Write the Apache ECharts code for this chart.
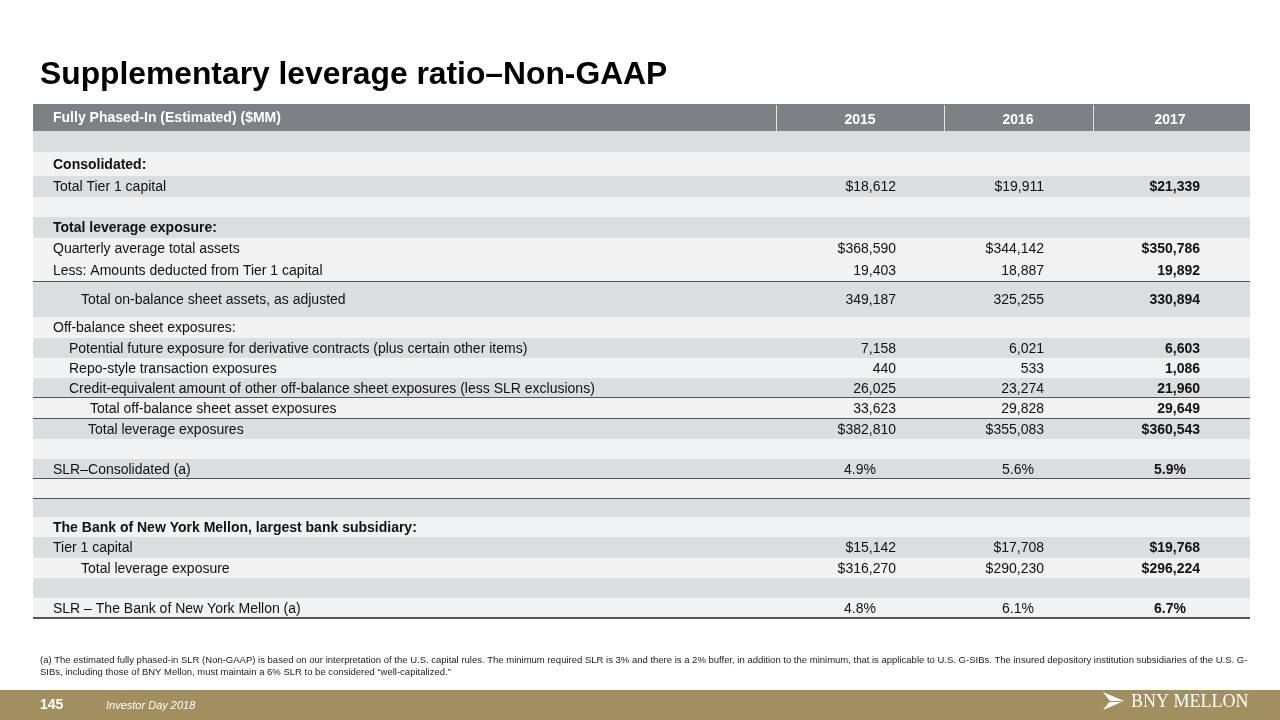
<!DOCTYPE html>
<html><head><meta charset="utf-8">
<script src="https://cdn.jsdelivr.net/npm/echarts@6/dist/echarts.min.js"></script>
<style>html,body{margin:0;padding:0;background:#fff}#c{width:1280px;height:720px}</style>
</head><body><div id="c"></div>
<script>
// ---------- DATA ----------
const titleText = 'Supplementary leverage ratio–Non-GAAP';
const headerLabel = 'Fully Phased-In (Estimated) ($MM)';
const years = ['2015', '2016', '2017'];
const rowLabels = [
  '',
  'Consolidated:',
  'Total Tier 1 capital',
  '',
  'Total leverage exposure:',
  'Quarterly average total assets',
  'Less: Amounts deducted from Tier 1 capital',
  'Total on-balance sheet assets, as adjusted',
  'Off-balance sheet exposures:',
  'Potential future exposure for derivative contracts (plus certain other items)',
  'Repo-style transaction exposures',
  'Credit-equivalent amount of other off-balance sheet exposures (less SLR exclusions)',
  'Total off-balance sheet asset exposures',
  'Total leverage exposures',
  '',
  'SLR–Consolidated (a)',
  '',
  '',
  'The Bank of New York Mellon, largest bank subsidiary:',
  'Tier 1 capital',
  'Total leverage exposure',
  '',
  'SLR – The Bank of New York Mellon (a)'
];
const rowFormat = ['', '', '$', '', '', '$', '', '', '', '', '', '', '', '$', '', '%', '', '', '', '$', '$', '', '%'];
const values2015 = [null, null, 18612, null, null, 368590, 19403, 349187, null, 7158, 440, 26025, 33623, 382810, null, 4.9, null, null, null, 15142, 316270, null, 4.8];
const values2016 = [null, null, 19911, null, null, 344142, 18887, 325255, null, 6021, 533, 23274, 29828, 355083, null, 5.6, null, null, null, 17708, 290230, null, 6.1];
const values2017 = [null, null, 21339, null, null, 350786, 19892, 330894, null, 6603, 1086, 21960, 29649, 360543, null, 5.9, null, null, null, 19768, 296224, null, 6.7];
const headingRows = [1, 4, 18];
const footnoteLines = [
  '(a) The estimated fully phased-in SLR (Non-GAAP) is based on our interpretation of the U.S. capital rules. The minimum required SLR is 3% and there is a 2% buffer, in addition to the minimum, that is applicable to U.S. G-SIBs. The insured depository institution subsidiaries of the U.S. G-',
  'SIBs, including those of BNY Mellon, must maintain a 6% SLR to be considered \u201cwell-capitalized.\u201d'
];
const pageNumber = '145';
const footerText = 'Investor Day 2018';
const logoText = 'BNY MELLON';

// ---------- LAYOUT ----------
const tableLeft = 33, tableTop = 104, tableWidth = 1217;
const headerHeight = 27;
const rowHeights = [21, 24, 21, 20, 21, 21, 23, 35, 21, 20, 20, 20, 21, 20, 20, 20, 20, 18, 20, 21, 20, 20, 20];
const rowIndent = {7: 48, 9: 36, 10: 36, 11: 36, 12: 57, 13: 55, 20: 48};
const defaultIndent = 20;
const darkRows = [0, 2, 4, 7, 9, 11, 13, 15, 17, 19, 21];
const ruleAfterRows = [6, 11, 12, 15, 16, 22];
const colEdges = [743, 911, 1060];          // header separators (table-relative)
const valueRight = [863, 1011, 1167];       // right edge of numbers
const centerX = [827, 985, 1137];           // header centre
const percentCenter = [827, 985, 1137];
const colors = {header: '#7e8084', dark: '#dcdddf', light: '#f2f2f2', rule: '#555555', text: '#111111', band: '#a28f5f'};
const FONT = '"Liberation Sans", Arial, sans-serif';

const rowTops = [];
let acc = headerHeight;
rowHeights.forEach(h => { rowTops.push(acc); acc += h; });
const tableHeight = acc;

const seriesValues = [values2015, values2016, values2017];
function fmt(v, f) {
  if (v === null || v === undefined) return '';
  if (f === '%') return v.toFixed(1) + '%';
  const s = v.toLocaleString('en-US');
  return f === '$' ? '$' + s : s;
}

const chart = echarts.init(document.getElementById('c'), null, {renderer: 'canvas'});

function renderHeader(params, api) {
  const p0 = api.coord([0, 0]);
  const p1 = api.coord([tableWidth, headerHeight]);
  const children = [{
    type: 'rect', shape: {x: p0[0], y: p0[1], width: p1[0] - p0[0], height: p1[1] - p0[1]},
    style: {fill: colors.header}
  }];
  colEdges.forEach(e => {
    const a = api.coord([e, 0]);
    children.push({type: 'rect', shape: {x: a[0], y: a[1] + 1, width: 1, height: p1[1] - p0[1] - 1}, style: {fill: '#e6e6e6'}});
  });
  const lp = api.coord([defaultIndent, headerHeight / 2]);
  children.push({type: 'text', style: {text: headerLabel, x: lp[0], y: lp[1] + 1, font: 'bold 14px ' + FONT, fill: '#ffffff', align: 'left', verticalAlign: 'middle'}});
  years.forEach((y, i) => {
    const c = api.coord([centerX[i], headerHeight / 2]);
    children.push({type: 'text', style: {text: y, x: c[0], y: c[1] + 3, font: 'bold 14px ' + FONT, fill: '#ffffff', align: 'center', verticalAlign: 'middle'}});
  });
  return {type: 'group', children};
}

function renderRow(params, api) {
  const r = api.value(0);
  const top = rowTops[r], h = rowHeights[r];
  const p0 = api.coord([0, top]);
  const p1 = api.coord([tableWidth, top + h]);
  const children = [{
    type: 'rect', shape: {x: p0[0], y: p0[1], width: p1[0] - p0[0], height: p1[1] - p0[1]},
    style: {fill: darkRows.includes(r) ? colors.dark : colors.light}
  }];
  const mid = top + h / 2;
  const indent = rowIndent[r] !== undefined ? rowIndent[r] : defaultIndent;
  const lp = api.coord([indent, mid]);
  if (rowLabels[r]) {
    children.push({type: 'text', style: {text: rowLabels[r], x: lp[0], y: lp[1] + 1,
      font: (headingRows.includes(r) ? 'bold ' : '') + '14px ' + FONT, fill: colors.text, align: 'left', verticalAlign: 'middle'}});
  }
  seriesValues.forEach((vals, i) => {
    const t = fmt(vals[r], rowFormat[r]);
    if (!t) return;
    const isPct = rowFormat[r] === '%';
    const c = api.coord([isPct ? percentCenter[i] : valueRight[i], mid]);
    children.push({type: 'text', style: {text: t, x: c[0], y: c[1] + 1,
      font: (i === 2 ? 'bold ' : '') + '14px ' + FONT, fill: colors.text,
      align: isPct ? 'center' : 'right', verticalAlign: 'middle'}});
  });
  if (ruleAfterRows.includes(r)) {
    children.push({type: 'rect', shape: {x: p0[0], y: p1[1] - 1, width: p1[0] - p0[0], height: 2}, style: {fill: colors.rule}});
  }
  return {type: 'group', children};
}

const option = {
  animation: false,
  backgroundColor: '#ffffff',
  title: {
    text: titleText, left: 35, top: 54,
    textStyle: {fontFamily: FONT, fontSize: 31.8, fontWeight: 'bold', color: '#000000'}
  },
  grid: {left: tableLeft, top: tableTop, width: tableWidth, height: tableHeight, containLabel: false},
  xAxis: {type: 'value', min: 0, max: tableWidth, show: false},
  yAxis: {type: 'value', min: 0, max: tableHeight, inverse: true, show: false},
  series: [
    {type: 'custom', name: 'header', data: [[0]], renderItem: renderHeader, silent: true, clip: false},
    {type: 'custom', name: 'rows', data: rowLabels.map((_, i) => [i]), renderItem: renderRow, silent: true, clip: false}
  ],
  graphic: [
    {type: 'text', left: 40, top: 655, style: {text: footnoteLines[0], font: '9.5px ' + FONT, fill: '#222222'}},
    {type: 'text', left: 40, top: 667, style: {text: footnoteLines[1], font: '9.5px ' + FONT, fill: '#222222'}},
    {type: 'rect', left: 0, top: 690, shape: {width: 1280, height: 30}, style: {fill: colors.band}},
    {type: 'text', left: 40, top: 698, style: {text: pageNumber, font: 'bold 14px ' + FONT, fill: '#ffffff'}},
    {type: 'text', left: 106, top: 700, style: {text: footerText, font: 'italic 11px ' + FONT, fill: '#ffffff'}},
    {type: 'polygon', shape: {points: [[1103, 692], [1124, 701], [1103, 710], [1110, 701]]}, style: {fill: '#ffffff'}},
    {type: 'line', shape: {x1: 1106, y1: 701.5, x2: 1122, y2: 701.5}, style: {stroke: colors.band, lineWidth: 1}},
    {type: 'text', left: 1131, top: 693, style: {text: logoText, font: '18px "Liberation Serif", "Times New Roman", serif', fill: '#ffffff'}}
  ]
};
chart.setOption(option);
</script>
</body></html>
